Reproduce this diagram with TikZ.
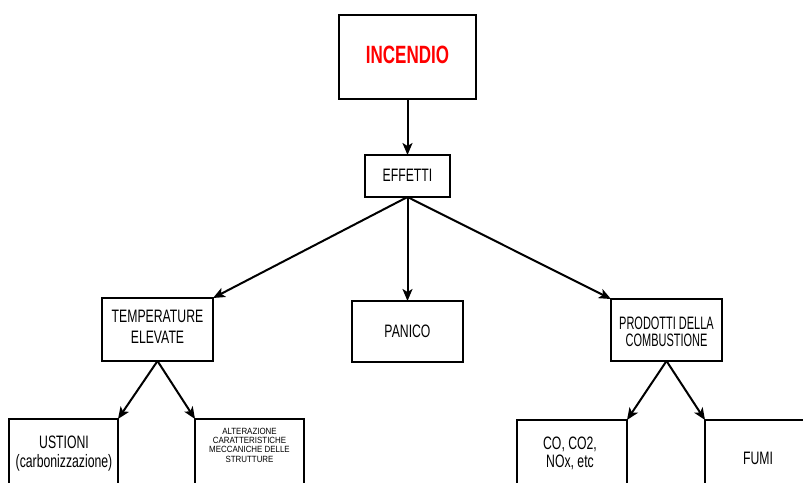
\documentclass[tikz,border=0pt]{standalone}
\usepackage{fontspec}
\setmainfont{Liberation Sans}[FakeStretch=0.68]
\newfontfamily\narrowerfont{Liberation Sans}[FakeStretch=0.61]
\newfontfamily\widerfont{Liberation Sans}[FakeStretch=0.88]
\usetikzlibrary{arrows.meta}
\begin{document}
\begin{tikzpicture}[x=1pt,y=-1pt,
  box/.style={draw=black,line width=2pt,rectangle,inner sep=0pt,outer sep=0pt},
  lbl/.style={inner sep=0pt,outer sep=0pt,align=center,text=black},
  conn/.style={line width=2pt,-{Stealth[length=12pt,width=10pt,inset=3pt]}}]
\useasboundingbox (0,0) rectangle (803,482);
\clip (0,0) rectangle (803,482);
% boxes
\node[box,minimum width=137pt,minimum height=84pt] (inc) at (407.5,57) {};
\node[box,minimum width=85pt,minimum height=42pt] (eff) at (407.5,176) {};
\node[box,minimum width=111pt,minimum height=63pt] (temp) at (157.5,329.5) {};
\node[box,minimum width=111pt,minimum height=61pt] (pan) at (407.5,331.5) {};
\node[box,minimum width=111pt,minimum height=62pt] (prod) at (666.5,330) {};
\node[box,minimum width=109pt,minimum height=100pt] (ust) at (63.5,469) {};
\node[box,minimum width=109pt,minimum height=100pt] (alt) at (249.5,469) {};
\node[box,minimum width=110pt,minimum height=100pt] (co) at (572,470) {};
\node[box,minimum width=115pt,minimum height=100pt] (fumi) at (762.5,470) {};
% texts
\node[lbl,text=red,font=\fontsize{25}{28}\selectfont\bfseries] (tinc) at (407.5,54.5) {INCENDIO};
\node[lbl,font=\fontsize{18}{21}\selectfont] (teff) at (407.5,175.5) {EFFETTI};
\node[lbl,font=\fontsize{18}{21}\selectfont] (ttemp) at (157.5,327) {TEMPERATURE\\ELEVATE};
\node[lbl,font=\fontsize{18}{21}\selectfont] (tpan) at (407.5,331.5) {PANICO};
\node[lbl,font=\narrowerfont\fontsize{18}{17}\selectfont] (tprod) at (666.5,331.7) {PRODOTTI DELLA\\COMBUSTIONE};
\node[lbl,font=\fontsize{18}{19}\selectfont] (tust) at (64,454) {USTIONI\\(carbonizzazione)};
\node[lbl,font=\widerfont\fontsize{9}{9.3}\selectfont] (talt) at (249.5,445) {ALTERAZIONE\\CARATTERISTICHE\\MECCANICHE DELLE\\STRUTTURE};
\node[lbl,font=\fontsize{18}{18}\selectfont] (tco) at (570,453) {CO, CO2,\\NOx, etc};
\node[lbl,font=\fontsize{18}{21}\selectfont] (tfumi) at (758,458.5) {FUMI};
% connectors
\draw[conn] (inc.south) -- (eff.north);
\draw[conn] (eff.south) -- (temp.north east);
\draw[conn] (eff.south) -- (pan.north);
\draw[conn] (eff.south) -- (prod.north west);
\draw[conn] (temp.south) -- (ust.north east);
\draw[conn] (temp.south) -- (alt.north west);
\draw[conn] (prod.south) -- (co.north east);
\draw[conn] (prod.south) -- (fumi.north west);
\end{tikzpicture}
\end{document}
